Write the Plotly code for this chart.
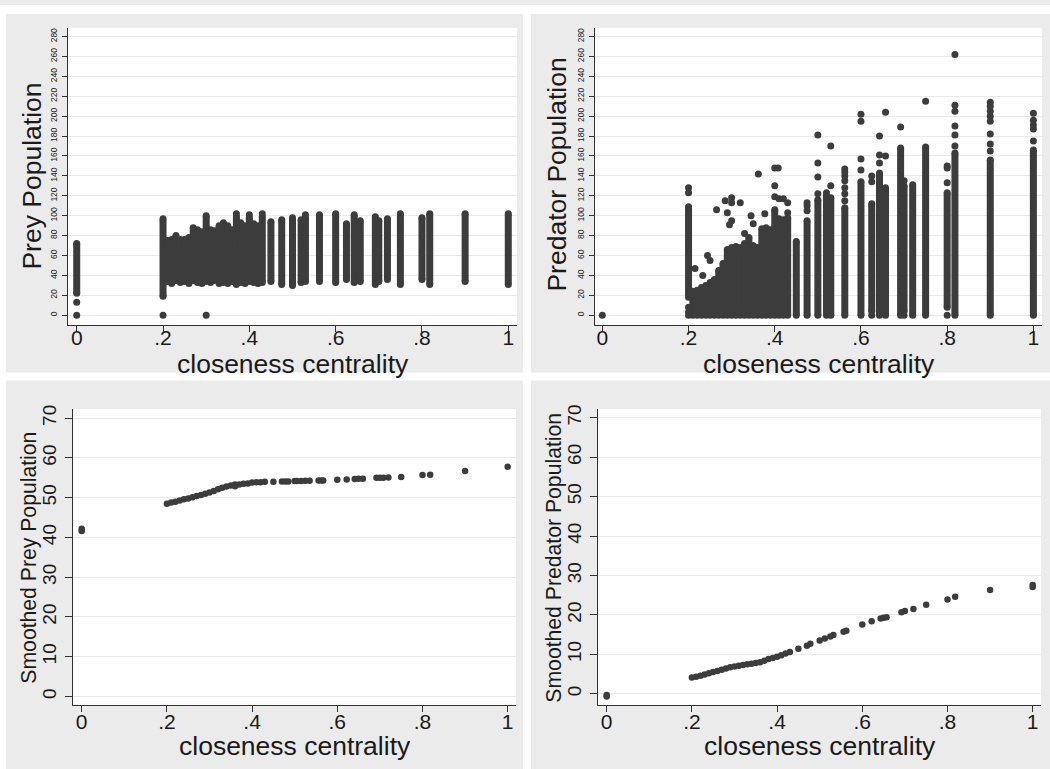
import plotly.graph_objects as go

W, H = 1050, 769

# ---------------------------------------------------------------------------
# Data
# ---------------------------------------------------------------------------
# Prey population: each closeness value is a dense column of observations,
# summarised by its lowest and highest value.
prey_band_x = [0.0, 0.2,
               0.21, 0.22, 0.23, 0.24, 0.25, 0.26, 0.27, 0.28, 0.29, 0.30,
               0.31, 0.32, 0.33, 0.34, 0.35, 0.36, 0.37, 0.38, 0.39, 0.40,
               0.41, 0.42, 0.43,
               0.45, 0.475, 0.5, 0.52, 0.53, 0.5625, 0.6, 0.625, 0.643, 0.657,
               0.692, 0.7, 0.72, 0.75, 0.8, 0.818, 0.9, 1.0]
prey_band_lo = [22, 19,
                34, 32, 35, 33, 34, 32, 35, 33, 32, 34,
                33, 35, 32, 33, 32, 34, 31, 33, 32, 34,
                33, 32, 33,
                34, 31, 30, 33, 34, 34, 33, 36, 33, 34,
                31, 34, 36, 31, 36, 31, 34, 31]
prey_band_hi = [72, 97,
                75, 76, 80, 76, 76, 78, 88, 86, 84, 100,
                86, 85, 90, 93, 90, 86, 99, 93, 90, 98,
                92, 90, 99,
                94, 96, 98, 96, 98, 101, 102, 92, 101, 95,
                99, 95, 97, 102, 98, 102, 102, 102]
prey_single_x = [0.0, 0.0, 0.2, 0.3, 0.37, 0.4, 0.43, 0.53]
prey_single_y = [0, 13, 0, 0, 102, 101, 102, 101]

# Predator population
pred_band_x = [0.2,
               0.21, 0.22, 0.23, 0.24, 0.25, 0.26, 0.27, 0.28, 0.29, 0.30,
               0.31, 0.32, 0.33, 0.34, 0.35, 0.36, 0.37, 0.38, 0.39, 0.40,
               0.41, 0.42, 0.43,
               0.45, 0.475, 0.5, 0.52, 0.53, 0.5625, 0.6, 0.625, 0.643, 0.657,
               0.692, 0.7, 0.72, 0.75, 0.8, 0.818, 0.9, 1.0]
pred_band_lo = [18,
                0, 0, 0, 0, 0, 0, 0, 0, 0, 0,
                0, 0, 0, 0, 0, 0, 0, 0, 0, 0,
                0, 0, 0,
                0, 0, 0, 0, 0, 0, 0, 4, 0, 0,
                0, 4, 0, 0, 8, 0, 0, 0]
pred_band_hi = [109,
                24, 25, 28, 30, 33, 36, 45, 52, 66, 68,
                69, 68, 72, 78, 70, 68, 87, 88, 86, 106,
                97, 96, 98,
                74, 95, 116, 120, 118, 108, 134, 112, 143, 128,
                168, 130, 131, 169, 123, 163, 156, 166]
pred_single_x = [0.0, 0.2, 0.2, 0.2, 0.2, 0.2,
                 0.215, 0.233, 0.244, 0.25, 0.265, 0.285, 0.29, 0.3, 0.3, 0.295,
                 0.3, 0.32, 0.33, 0.345, 0.35, 0.362, 0.377, 0.4, 0.408, 0.4,
                 0.4, 0.41, 0.42, 0.43, 0.43,
                 0.475, 0.475, 0.475,
                 0.5, 0.5, 0.5, 0.5,
                 0.52, 0.53, 0.53,
                 0.5625, 0.5625, 0.5625, 0.5625, 0.5625, 0.5625, 0.5625,
                 0.6, 0.6, 0.6, 0.6,
                 0.625, 0.625, 0.625,
                 0.643, 0.643, 0.643,
                 0.657, 0.657,
                 0.692,
                 0.7, 0.7,
                 0.75,
                 0.8, 0.8, 0.8, 0.8,
                 0.818, 0.818, 0.818, 0.818, 0.818, 0.818,
                 0.9, 0.9, 0.9, 0.9, 0.9, 0.9, 0.9, 0.9,
                 1.0, 1.0, 1.0, 1.0, 1.0]
pred_single_y = [0, 123, 128, 8, 3, 0,
                 47, 40, 60, 55, 106, 115, 103, 118, 113, 91,
                 95, 113, 82, 100, 92, 142, 102, 148, 148, 130,
                 119, 117, 117, 113, 103,
                 105, 110, 113,
                 122, 139, 153, 181,
                 123, 130, 170,
                 115, 122, 128, 135, 140, 144, 147,
                 146, 157, 195, 202,
                 0, 134, 140,
                 153, 161, 180,
                 160, 204,
                 189,
                 0, 135,
                 215,
                 0, 133, 148, 150,
                 170, 181, 190, 205, 211, 262,
                 165, 172, 182, 195, 200, 205, 210, 214,
                 175, 187, 191, 196, 203]

# Smoothed prey population
prey_smooth_x = [0.0, 0.0,
                 0.20, 0.21, 0.22, 0.23, 0.24, 0.25, 0.26, 0.27, 0.28, 0.29,
                 0.30, 0.31, 0.32, 0.33, 0.34, 0.35, 0.36, 0.36, 0.37, 0.38,
                 0.39, 0.40, 0.41, 0.42, 0.43,
                 0.45, 0.47, 0.478, 0.485, 0.5, 0.505, 0.515, 0.525, 0.535,
                 0.556, 0.5625, 0.567, 0.6, 0.622, 0.641, 0.65, 0.66,
                 0.692, 0.7, 0.708, 0.72, 0.75, 0.8, 0.818, 0.9, 1.0]
prey_smooth_y = [41.6, 42.2,
                 48.5, 48.8, 49.0, 49.3, 49.6, 49.8, 50.1, 50.4, 50.7, 51.0,
                 51.3, 51.7, 52.1, 52.5, 52.8, 53.1, 53.3, 52.9, 53.3, 53.5,
                 53.6, 53.8, 53.9, 53.9, 54.0,
                 54.0, 54.1, 54.1, 54.1, 54.2, 54.2, 54.2, 54.25, 54.25,
                 54.3, 54.3, 54.3, 54.5, 54.6, 54.7, 54.8, 54.8,
                 55.0, 55.0, 55.0, 55.1, 55.2, 55.7, 55.8, 56.7, 57.8]

# Smoothed predator population
pred_smooth_x = [0.0, 0.0,
                 0.20, 0.21, 0.22, 0.23, 0.24, 0.25, 0.26, 0.27, 0.28, 0.29,
                 0.30, 0.31, 0.32, 0.33, 0.34, 0.35, 0.36, 0.37, 0.38, 0.39,
                 0.40, 0.41, 0.42, 0.43,
                 0.45, 0.47, 0.478, 0.5, 0.512, 0.525, 0.532, 0.556, 0.5625,
                 0.6, 0.622, 0.643, 0.65, 0.657, 0.692, 0.7, 0.72, 0.75,
                 0.8, 0.818, 0.9, 1.0, 1.0]
pred_smooth_y = [-0.3, -0.7,
                 4.1, 4.3, 4.6, 4.9, 5.2, 5.5, 5.8, 6.1, 6.4, 6.7,
                 6.9, 7.1, 7.3, 7.5, 7.6, 7.8, 8.0, 8.4, 8.8, 9.1,
                 9.4, 9.8, 10.2, 10.6,
                 11.4, 12.2, 12.7, 13.5, 14.0, 14.5, 14.9, 15.7, 16.0,
                 17.6, 18.4, 19.1, 19.3, 19.4, 20.7, 21.0, 21.5, 22.6,
                 23.9, 24.6, 26.3, 27.1, 27.6]

x_tick_vals = [0, 0.2, 0.4, 0.6, 0.8, 1.0]
x_tick_text = ["0", ".2", ".4", ".6", ".8", "1"]
pop_tick_vals = [0, 20, 40, 60, 80, 100, 120, 140, 160, 180, 200, 220, 240, 260, 280]
smooth_tick_vals = [0, 10, 20, 30, 40, 50, 60, 70]

# ---------------------------------------------------------------------------
# Styling
# ---------------------------------------------------------------------------
FONT = "Liberation Sans, Arial, sans-serif"
DOT = "#3c3c3c"
AXIS = "#333333"
GRID = "#e9e9e9"
PANEL = "#ebebeb"
TXT = "#1a1a1a"


def fx(px):
    return px / W


def fy(py):
    return 1 - py / H


def band_trace(xs, los, his, xa, ya, size):
    bx, by = [], []
    for x, lo, hi in zip(xs, los, his):
        bx += [x, x, None]
        by += [lo, hi, None]
    return go.Scatter(x=bx, y=by, mode="lines+markers",
                      line=dict(color=DOT, width=size),
                      marker=dict(size=size, color=DOT, line=dict(width=0)),
                      xaxis=xa, yaxis=ya, hoverinfo="skip", showlegend=False)


def dot_trace(xs, ys, xa, ya, size):
    return go.Scatter(x=xs, y=ys, mode="markers",
                      marker=dict(size=size, color=DOT, line=dict(width=0)),
                      xaxis=xa, yaxis=ya, hoverinfo="skip", showlegend=False)


fig = go.Figure()
fig.add_trace(band_trace(prey_band_x, prey_band_lo, prey_band_hi, "x", "y", 7))
fig.add_trace(dot_trace(prey_single_x, prey_single_y, "x", "y", 7))
fig.add_trace(band_trace(pred_band_x, pred_band_lo, pred_band_hi, "x2", "y2", 7))
fig.add_trace(dot_trace(pred_single_x, pred_single_y, "x2", "y2", 7))
fig.add_trace(dot_trace(prey_smooth_x, prey_smooth_y, "x3", "y3", 6.5))
fig.add_trace(dot_trace(pred_smooth_x, pred_smooth_y, "x4", "y4", 6.5))


def xaxis_cfg(x0, x1, rng, anchor, standoff):
    return dict(domain=[fx(x0), fx(x1)], range=rng, anchor=anchor,
                tickmode="array", tickvals=x_tick_vals, ticktext=x_tick_text,
                showgrid=False, zeroline=False, showline=True,
                linecolor=AXIS, linewidth=1, ticks="outside", ticklen=6,
                tickcolor=AXIS, tickfont=dict(family=FONT, size=21, color=TXT),
                ticklabelstandoff=standoff, fixedrange=True)


def yaxis_cfg(y0, y1, rng, anchor, vals, size, ticklen, standoff):
    return dict(domain=[fy(y1), fy(y0)], range=rng, anchor=anchor,
                tickmode="array", tickvals=vals,
                showgrid=True, gridcolor=GRID, gridwidth=1,
                zeroline=False, showline=True, linecolor=AXIS, linewidth=1,
                ticks="outside", ticklen=ticklen, tickcolor=AXIS, tickangle=-90,
                tickfont=dict(family=FONT, size=size, color=TXT),
                ticklabelstandoff=standoff, fixedrange=True)


layout = dict(
    width=W, height=H,
    margin=dict(l=0, r=0, t=0, b=0),
    paper_bgcolor=PANEL, plot_bgcolor="white",
    showlegend=False,
    font=dict(family=FONT, color=TXT),
    xaxis=xaxis_cfg(68, 517, [-0.0202, 1.0202], "y", -12),
    yaxis=yaxis_cfg(23, 322, [-9.7, 288.7], "x", pop_tick_vals, 8.5, 5, 2),
    xaxis2=xaxis_cfg(595, 1042, [-0.017, 1.02], "y2", -12),
    yaxis2=yaxis_cfg(23, 322, [-9.7, 288.7], "x2", pop_tick_vals, 8.5, 5, 2),
    xaxis3=xaxis_cfg(73.3, 516, [-0.0197, 1.0195], "y3", -9),
    yaxis3=yaxis_cfg(406.7, 705, [-2.25, 72.3], "x3", smooth_tick_vals, 19, 7, 2),
    xaxis4=xaxis_cfg(598.3, 1041, [-0.0197, 1.0195], "y4", -9),
    yaxis4=yaxis_cfg(406.7, 705, [-2.95, 72.2], "x4", smooth_tick_vals, 19, 7, 2),
)

# white gutters between the four graph panels
gutters = [(0, 0, 1050, 9), (0, 0, 6, 769), (523, 0, 531, 769), (0, 370, 1050, 378)]
layout["shapes"] = [dict(type="rect", xref="paper", yref="paper",
                         x0=fx(a), x1=fx(c), y0=fy(d), y1=fy(b),
                         fillcolor="white", line=dict(width=0), layer="below")
                    for a, b, c, d in gutters]


def title(text, px, py, size, angle=0):
    return dict(text=text, x=fx(px), y=fy(py), xref="paper", yref="paper",
                showarrow=False, xanchor="center", yanchor="middle",
                textangle=angle, font=dict(family=FONT, size=size, color=TXT))


layout["annotations"] = [
    title("closeness centrality", 292.5, 361, 26.5),
    title("closeness centrality", 818.5, 361, 26.5),
    title("closeness centrality", 294.5, 746, 26.5),
    title("closeness centrality", 819.5, 746, 26.5),
    title("Prey Population", 31.7, 172, 26.5, -90),
    title("Predator Population", 556.7, 171, 26.5, -90),
    title("Smoothed Prey Population", 29.3, 556, 21.2, -90),
    title("Smoothed Predator Population", 554.3, 556, 21.2, -90),
]

fig.update_layout(**layout)
fig.write_html("out.html")
